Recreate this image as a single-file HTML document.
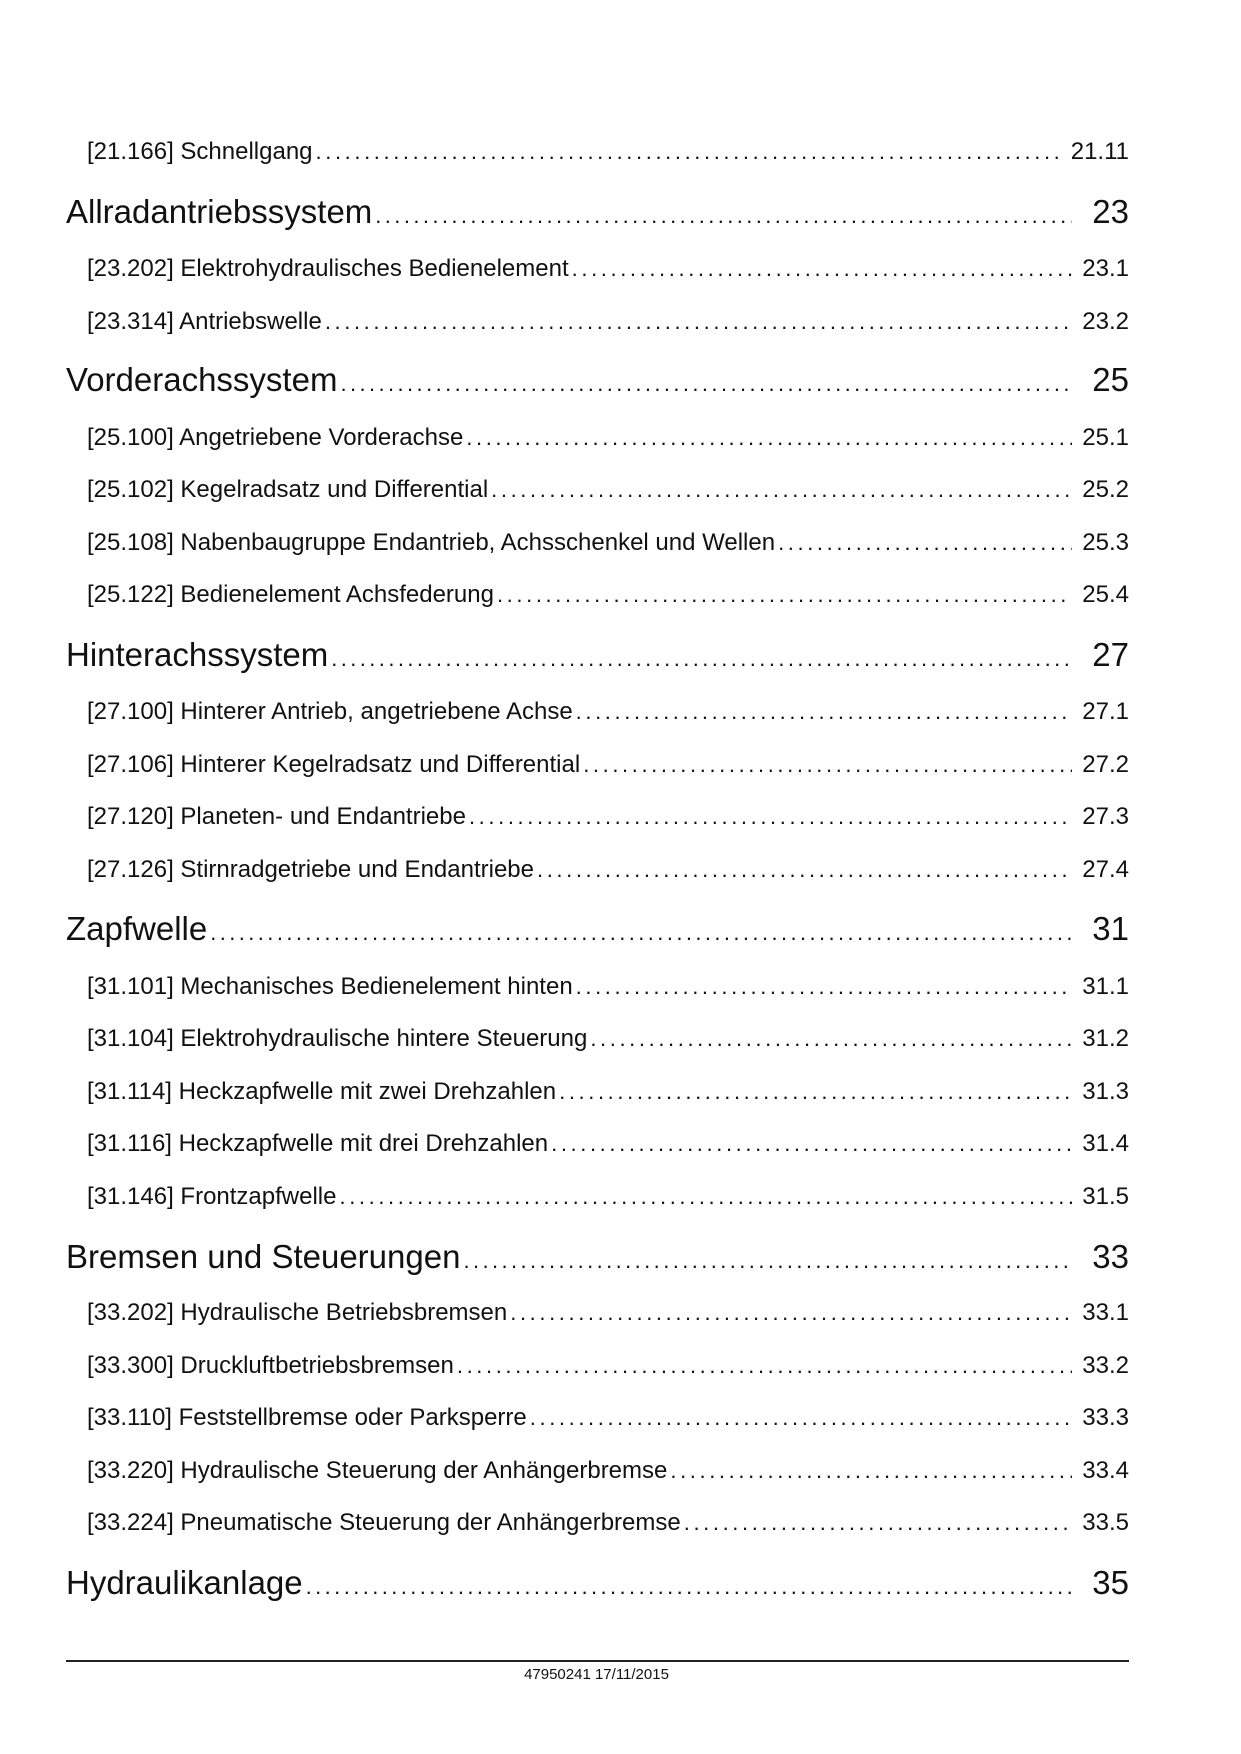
<!DOCTYPE html>
<html><head><meta charset="utf-8"><style>
html,body{margin:0;padding:0;background:#fff;}
body{width:1241px;height:1754px;position:relative;overflow:hidden;font-family:"Liberation Sans",Arial,sans-serif;color:#111;}
.r{position:absolute;display:flex;align-items:baseline;white-space:nowrap;}
.s{left:87px;width:1042px;font-size:24px;height:30px;line-height:30px;}
.h{left:66px;width:1063px;font-size:33px;height:40px;line-height:40px;}
.d{flex:1;overflow:hidden;margin:0 10px 0 3px;letter-spacing:3.6px;font-size:22px;}
.h .d{letter-spacing:3.4px;margin:0 20px 0 3px;font-size:22px;}
.n{text-align:right;}
.ln{position:absolute;left:66px;width:1063px;top:1660px;height:2px;background:#222;}
.ft{position:absolute;left:0;width:1193px;text-align:center;top:1666px;font-size:15px;}
</style></head><body>
<div class="r s" style="top:137px"><span>[21.166] Schnellgang</span><span class="d">........................................................................................................................................</span><span class="n">21.11</span></div>
<div class="r h" style="top:192px"><span>Allradantriebssystem</span><span class="d">........................................................................................................................................</span><span class="n">23</span></div>
<div class="r s" style="top:254px"><span>[23.202] Elektrohydraulisches Bedienelement</span><span class="d">........................................................................................................................................</span><span class="n">23.1</span></div>
<div class="r s" style="top:307px"><span>[23.314] Antriebswelle</span><span class="d">........................................................................................................................................</span><span class="n">23.2</span></div>
<div class="r h" style="top:360px"><span>Vorderachssystem</span><span class="d">........................................................................................................................................</span><span class="n">25</span></div>
<div class="r s" style="top:423px"><span>[25.100] Angetriebene Vorderachse</span><span class="d">........................................................................................................................................</span><span class="n">25.1</span></div>
<div class="r s" style="top:475px"><span>[25.102] Kegelradsatz und Differential</span><span class="d">........................................................................................................................................</span><span class="n">25.2</span></div>
<div class="r s" style="top:528px"><span>[25.108] Nabenbaugruppe Endantrieb, Achsschenkel und Wellen</span><span class="d">........................................................................................................................................</span><span class="n">25.3</span></div>
<div class="r s" style="top:580px"><span>[25.122] Bedienelement Achsfederung</span><span class="d">........................................................................................................................................</span><span class="n">25.4</span></div>
<div class="r h" style="top:635px"><span>Hinterachssystem</span><span class="d">........................................................................................................................................</span><span class="n">27</span></div>
<div class="r s" style="top:697px"><span>[27.100] Hinterer Antrieb, angetriebene Achse</span><span class="d">........................................................................................................................................</span><span class="n">27.1</span></div>
<div class="r s" style="top:750px"><span>[27.106] Hinterer Kegelradsatz und Differential</span><span class="d">........................................................................................................................................</span><span class="n">27.2</span></div>
<div class="r s" style="top:802px"><span>[27.120] Planeten- und Endantriebe</span><span class="d">........................................................................................................................................</span><span class="n">27.3</span></div>
<div class="r s" style="top:855px"><span>[27.126] Stirnradgetriebe und Endantriebe</span><span class="d">........................................................................................................................................</span><span class="n">27.4</span></div>
<div class="r h" style="top:909px"><span>Zapfwelle</span><span class="d">........................................................................................................................................</span><span class="n">31</span></div>
<div class="r s" style="top:972px"><span>[31.101] Mechanisches Bedienelement hinten</span><span class="d">........................................................................................................................................</span><span class="n">31.1</span></div>
<div class="r s" style="top:1024px"><span>[31.104] Elektrohydraulische hintere Steuerung</span><span class="d">........................................................................................................................................</span><span class="n">31.2</span></div>
<div class="r s" style="top:1077px"><span>[31.114] Heckzapfwelle mit zwei Drehzahlen</span><span class="d">........................................................................................................................................</span><span class="n">31.3</span></div>
<div class="r s" style="top:1129px"><span>[31.116] Heckzapfwelle mit drei Drehzahlen</span><span class="d">........................................................................................................................................</span><span class="n">31.4</span></div>
<div class="r s" style="top:1182px"><span>[31.146] Frontzapfwelle</span><span class="d">........................................................................................................................................</span><span class="n">31.5</span></div>
<div class="r h" style="top:1237px"><span>Bremsen und Steuerungen</span><span class="d">........................................................................................................................................</span><span class="n">33</span></div>
<div class="r s" style="top:1298px"><span>[33.202] Hydraulische Betriebsbremsen</span><span class="d">........................................................................................................................................</span><span class="n">33.1</span></div>
<div class="r s" style="top:1351px"><span>[33.300] Druckluftbetriebsbremsen</span><span class="d">........................................................................................................................................</span><span class="n">33.2</span></div>
<div class="r s" style="top:1403px"><span>[33.110] Feststellbremse oder Parksperre</span><span class="d">........................................................................................................................................</span><span class="n">33.3</span></div>
<div class="r s" style="top:1456px"><span>[33.220] Hydraulische Steuerung der Anhängerbremse</span><span class="d">........................................................................................................................................</span><span class="n">33.4</span></div>
<div class="r s" style="top:1508px"><span>[33.224] Pneumatische Steuerung der Anhängerbremse</span><span class="d">........................................................................................................................................</span><span class="n">33.5</span></div>
<div class="r h" style="top:1563px"><span>Hydraulikanlage</span><span class="d">........................................................................................................................................</span><span class="n">35</span></div>
<div class="ln"></div>
<div class="ft">47950241 17/11/2015</div>
</body></html>
